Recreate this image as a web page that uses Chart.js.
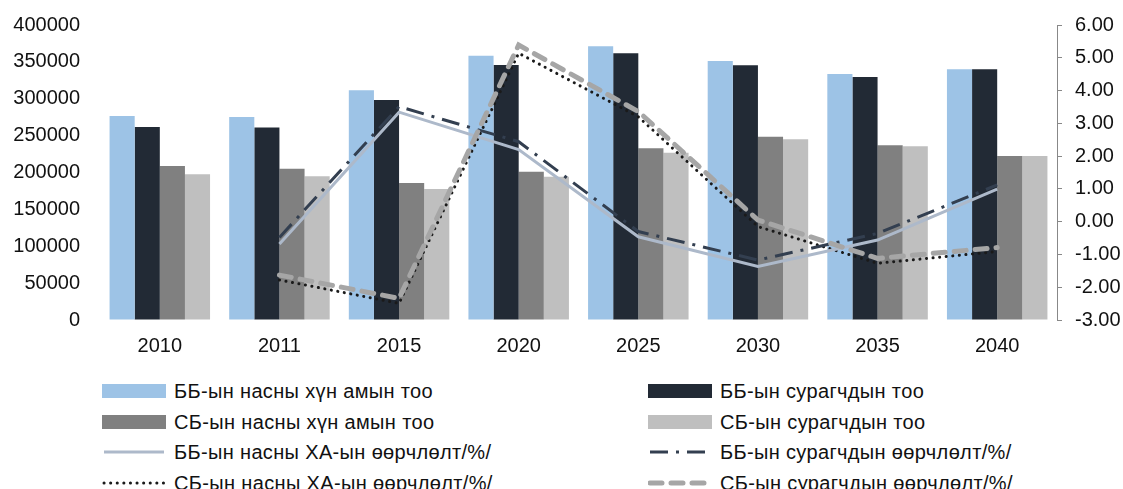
<!DOCTYPE html>
<html lang="mn">
<head>
<meta charset="UTF-8">
<title>ББ, СБ насны хүн ам ба сурагчдын тоо</title>
<script src="https://cdn.jsdelivr.net/npm/chart.js"></script>
<style>
    body {
        margin: 0;
        background: #fff;
        font-family: "Liberation Sans", Arial, sans-serif;
    }
    .wrap {
        position: relative;
        width: 1123px;
        height: 489px;
        overflow: hidden;
    }
    .chart-box {
        position: absolute;
        left: 0;
        top: 0;
        width: 1123px;
        height: 370px;
    }
    /* legend in two columns, like the original */
    .legend {
        position: absolute;
        top: 378px;
        left: 0;
        width: 1123px;
    }
    .legend .item {
        position: absolute;
        height: 26px;
        display: flex;
        align-items: center;
        font-size: 20px;
        letter-spacing: 0.35px;
        color: #111;
        white-space: nowrap;
    }
    .legend svg {
        margin-right: 8px;
    }
</style>
</head>
<body>
<div class="wrap">
    <div class="chart-box"><canvas id="chart"></canvas></div>
    <div class="legend" id="legend"></div>
</div>

<script>
// categories
const years = ['2010', '2011', '2015', '2020', '2025', '2030', '2035', '2040'];

// bar series (left axis)
const bbPopulation = [276600, 275300, 311400, 358400, 371100, 351200, 333600, 339900];
const bbStudents   = [261700, 260900, 298300, 345800, 361600, 345300, 329500, 339900];
const sbPopulation = [208800, 205200, 185800, 201100, 232800, 248500, 236800, 222400];
const sbStudents   = [197500, 194800, 177600, 194300, 226900, 245000, 235500, 222400];

// line series, % change (right axis)
const bbPopChange     = [null, -0.68, 3.34, 2.20, -0.46, -1.37, -0.56, 0.99];
const bbStudentChange = [null, -0.48, 3.51, 2.44, -0.30, -1.17, -0.36, 1.12];
const sbPopChange     = [null, -1.78, -2.49, 5.14, 3.20, -0.15, -1.27, -0.91];
const sbStudentChange = [null, -1.63, -2.34, 5.39, 3.36, 0.05, -1.12, -0.79];

// right axis tick labels
const rightTicks = ['-3.00', '-2.00', '-1.00', '0.00', '1.00', '2.00', '3.00', '4.00', '5.00', '6.00'];

const fontFamily = '"Liberation Sans", Arial, sans-serif';

const datasets = [
    { type: 'bar', label: 'ББ-ын насны хүн амын тоо', data: bbPopulation, backgroundColor: '#9DC3E6', yAxisID: 'y', order: 2 },
    { type: 'bar', label: 'ББ-ын сурагчдын тоо', data: bbStudents, backgroundColor: '#222A35', yAxisID: 'y', order: 2 },
    { type: 'bar', label: 'СБ-ын насны хүн амын тоо', data: sbPopulation, backgroundColor: '#808080', yAxisID: 'y', order: 2 },
    { type: 'bar', label: 'СБ-ын сурагчдын тоо', data: sbStudents, backgroundColor: '#BFBFBF', yAxisID: 'y', order: 2 },
    { type: 'line', label: 'ББ-ын насны ХА-ын өөрчлөлт/%/', data: bbPopChange, borderColor: '#ADB9CA',
      borderWidth: 3, pointRadius: 0, yAxisID: 'y2', order: 1, tension: 0 },
    { type: 'line', label: 'ББ-ын сурагчдын өөрчлөлт/%/', data: bbStudentChange, borderColor: '#333F50',
      borderWidth: 3, borderDash: [18, 8, 3, 8], pointRadius: 0, yAxisID: 'y2', order: 1, tension: 0 },
    { type: 'line', label: 'СБ-ын насны ХА-ын өөрчлөлт/%/', data: sbPopChange, borderColor: '#1a1a1a',
      borderWidth: 3, borderDash: [0.1, 6.5], borderCapStyle: 'round', pointRadius: 0, yAxisID: 'y2', order: 1, tension: 0 },
    { type: 'line', label: 'СБ-ын сурагчдын өөрчлөлт/%/', data: sbStudentChange, borderColor: '#A6A6A6',
      borderWidth: 5, borderDash: [12, 9], borderCapStyle: 'round', pointRadius: 0, yAxisID: 'y2', order: 0, tension: 0 }
];

const ctx = document.getElementById('chart').getContext('2d');
const chart = new Chart(ctx, {
    data: { labels: years, datasets: datasets },
    options: {
        responsive: true,
        maintainAspectRatio: false,
        animation: false,
        layout: { padding: { top: 10, left: 0, right: 0, bottom: 0 } },
        plugins: {
            legend: { display: false },
            tooltip: { enabled: false }
        },
        datasets: {
            bar: { categoryPercentage: 0.84, barPercentage: 1.0 }
        },
        scales: {
            x: {
                grid: { display: false },
                border: { display: false },
                ticks: { color: '#111', font: { family: fontFamily, size: 20 }, padding: 6 },
                afterFit: function (scale) { scale.height = 50; }
            },
            y: {
                position: 'left',
                min: 0,
                max: 400000,
                // invisible tick marks just push the labels away from the plot
                grid: { drawOnChartArea: false, drawTicks: true, tickLength: 12, color: 'rgba(0,0,0,0)' },
                border: { display: false },
                ticks: {
                    stepSize: 50000,
                    color: '#111',
                    font: { family: fontFamily, size: 20 },
                    padding: 8,
                    callback: function (value) { return String(value); }
                },
                afterFit: function (scale) { scale.width = 100; }
            },
            y2: {
                position: 'right',
                min: -3,
                max: 6,
                grid: { drawOnChartArea: false, drawTicks: true, tickLength: 5, color: '#888' },
                border: { display: true, color: '#888' },
                ticks: {
                    stepSize: 1,
                    color: '#111',
                    font: { family: fontFamily, size: 20 },
                    padding: 13,
                    callback: function (value) { return rightTicks[Math.round(value) + 3]; }
                },
                afterFit: function (scale) { scale.width = 66; }
            }
        }
    }
});

// build the two-column legend from the datasets
function sampleSvg(ds) {
    const w = 64, h = 14;
    if (ds.type === 'bar') {
        return '<svg width="' + w + '" height="' + h + '"><rect x="0" y="0" width="' + w + '" height="' + h + '" fill="' + ds.backgroundColor + '"/></svg>';
    }
    const dash = ds.borderDash ? ds.borderDash.join(',') : 'none';
    const cap = ds.borderCapStyle || 'butt';
    return '<svg width="' + w + '" height="' + h + '"><line x1="2" y1="7" x2="' + (w - 2) + '" y2="7" stroke="' + ds.borderColor +
        '" stroke-width="' + ds.borderWidth + '" stroke-dasharray="' + dash + '" stroke-linecap="' + cap + '"/></svg>';
}

const legend = document.getElementById('legend');
const colX = [102, 648];
const rowY = [0, 31, 61, 92];
datasets.forEach(function (ds, i) {
    const item = document.createElement('div');
    item.className = 'item';
    item.style.left = colX[i % 2] + 'px';
    item.style.top = rowY[Math.floor(i / 2)] + 'px';
    item.innerHTML = sampleSvg(ds) + '<span>' + ds.label + '</span>';
    legend.appendChild(item);
});
</script>
</body>
</html>
